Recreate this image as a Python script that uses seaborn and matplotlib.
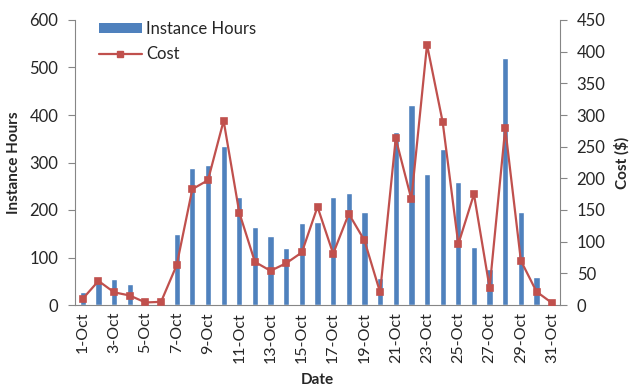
import numpy as np
import pandas as pd
import matplotlib
matplotlib.use("Agg")
import matplotlib.pyplot as plt
import seaborn as sns
from matplotlib.lines import Line2D
from matplotlib.patches import Patch

# data
dates = ["1-Oct", "2-Oct", "3-Oct", "4-Oct", "5-Oct", "6-Oct", "7-Oct", "8-Oct",
         "9-Oct", "10-Oct", "11-Oct", "12-Oct", "13-Oct", "14-Oct", "15-Oct",
         "16-Oct", "17-Oct", "18-Oct", "19-Oct", "20-Oct", "21-Oct", "22-Oct",
         "23-Oct", "24-Oct", "25-Oct", "26-Oct", "27-Oct", "28-Oct", "29-Oct",
         "30-Oct", "31-Oct"]
instance_hours = [28, 50, 54, 44, 0, 0, 149, 289, 295, 335, 227, 164, 145, 119,
                  173, 175, 227, 235, 196, 57, 364, 422, 276, 328, 259, 122,
                  75, 521, 196, 59, 0]
cost = [10, 38, 20, 15, 4, 5, 63, 183, 197, 291, 146, 68, 54, 66, 83, 155, 81,
        144, 102, 20, 263, 167, 411, 289, 96, 175, 27, 279, 70, 21, 3]

df = pd.DataFrame({"Date": dates, "Instance Hours": instance_hours, "Cost": cost})

sns.set_style("white")
plt.rcParams["font.family"] = ["Lato", "DejaVu Sans"]

bar_color = "#4F81BD"
line_color = "#C0504D"
axis_gray = "#868686"

fig, ax = plt.subplots(figsize=(6.31, 3.92), dpi=100)
fig.subplots_adjust(left=75 / 631, right=560 / 631, top=1 - 20 / 392, bottom=1 - 305 / 392)

sns.barplot(data=df, x="Date", y="Instance Hours", color=bar_color, width=0.4,
            saturation=1, ax=ax)
ax2 = ax.twinx()
sns.pointplot(data=df, x="Date", y="Cost", color=line_color, marker="s",
              markersize=5, linewidth=1.6, ax=ax2)

ax.set_xlim(-0.5, len(dates) - 0.5)
ax.set_ylim(0, 600)
ax2.set_ylim(0, 450)
ax.set_yticks(range(0, 601, 100))
ax2.set_yticks(range(0, 451, 50))

# ticks between categories, labels on every other day
ax.set_xticks(np.arange(-0.5, len(dates), 2))
ax.set_xticklabels([])
ax.set_xticks(np.arange(0, len(dates), 2), minor=True)
ax.set_xticklabels(dates[::2], minor=True, rotation=90, fontsize=11.5)
ax.tick_params(axis="x", which="major", length=5, color=axis_gray, direction="out")
ax.tick_params(axis="x", which="minor", length=0, pad=5)
ax.tick_params(axis="y", length=5, color=axis_gray, labelsize=12, direction="out", pad=7)
ax2.tick_params(axis="y", length=5, color=axis_gray, labelsize=12, direction="out", pad=7)

ax.set_xlabel("Date", fontsize=11, fontweight="bold", labelpad=7)
ax.set_ylabel("Instance Hours", fontsize=11, fontweight="bold", labelpad=6)
ax2.set_ylabel("Cost ($)", fontsize=11, fontweight="bold", labelpad=6)

for a in (ax, ax2):
    a.spines["top"].set_visible(False)
    for s in ("left", "right", "bottom"):
        a.spines[s].set_color(axis_gray)
        a.spines[s].set_linewidth(0.8)
ax.spines["right"].set_visible(False)
ax2.spines["left"].set_visible(False)
ax2.spines["bottom"].set_visible(False)

handles = [Patch(facecolor=bar_color, edgecolor="none"),
           Line2D([0], [0], color=line_color, marker="s", markersize=5, linewidth=1.6)]
ax.legend(handles, ["Instance Hours", "Cost"], loc="upper left", frameon=False,
          fontsize=12, bbox_to_anchor=(0.035, 1.02), handlelength=2.6,
          handleheight=0.55, handletextpad=0.25, labelspacing=0.55, borderaxespad=0)

fig.savefig("out.png", dpi=100)
